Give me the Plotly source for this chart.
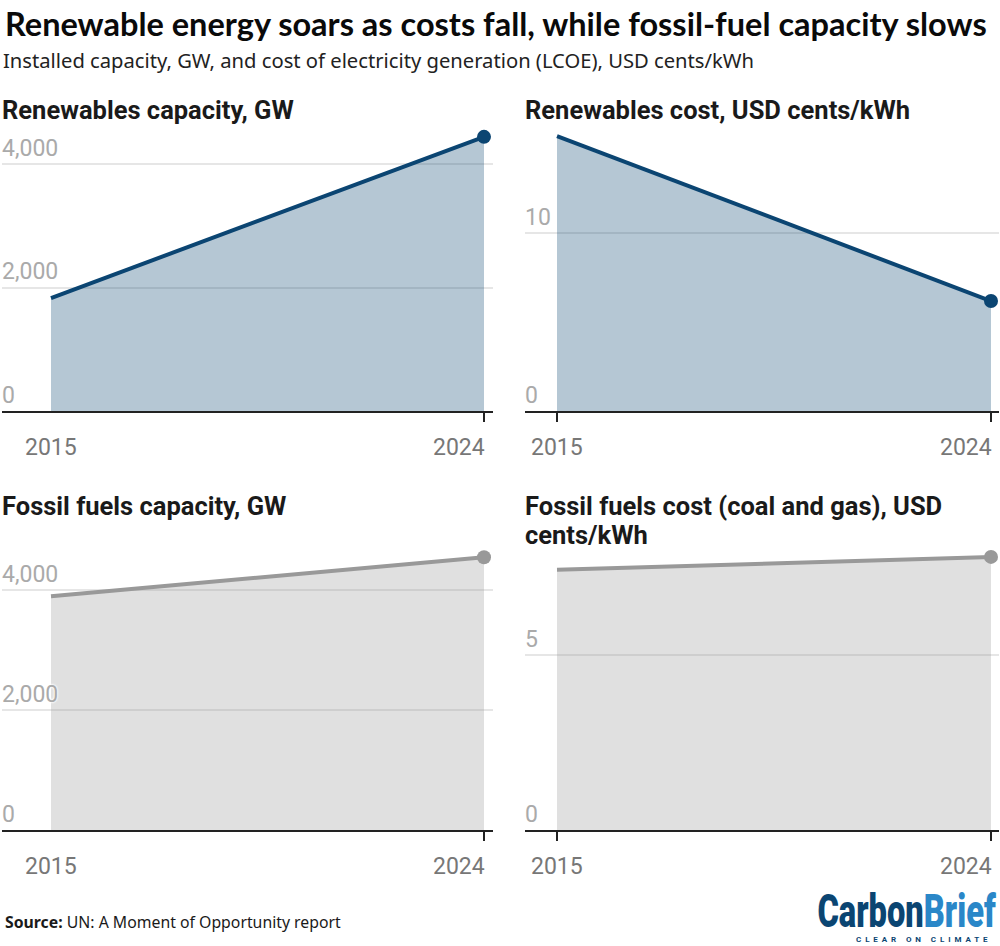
import plotly.graph_objects as go

W = 1000
H = 946

years = [2015, 2024]
renewables_capacity = [1830, 4440]
renewables_cost = [15.45, 6.18]
fossil_capacity = [3900, 4550]
fossil_cost = [7.43, 7.8]

capacity_ticks = [0, 2000, 4000]
capacity_labels = ['0', '2,000', '4,000']
cost_ticks_top = [0, 10]
cost_ticks_bottom = [0, 5]

BLUE = '#0b4572'
BLUE_FILL = 'rgba(11,69,114,0.3)'
GREY = '#999999'
GREY_FILL = 'rgba(153,153,153,0.3)'

# squeeze the logo and space out its strapline, no condensed font is installed
LOGO_JS = """
document.body.style.margin = '0';
document.querySelectorAll('.annotation-text').forEach(function (t) {
    if (t.textContent === 'CarbonBrief') {
        t.style.transformBox = 'fill-box';
        t.style.transformOrigin = '100% 50%';
        t.style.transform = 'scaleX(0.695)';
    }
    if (t.textContent === 'CLEAR ON CLIMATE') {
        t.style.letterSpacing = '3.9px';
    }
});
"""


def px_x(x):
    return x / W


def px_y(y):
    return 1 - y / H


def note(text, x, y, size, color='#1a1a1a', family='Roboto', xanchor='left', yanchor='middle', weight=None):
    return dict(text=text, x=px_x(x), y=px_y(y), xref='paper', yref='paper',
                xanchor=xanchor, yanchor=yanchor, showarrow=False, align='left',
                font=dict(family=family, size=size, color=color, weight=weight))


# name lines, values, line colour, fill, axis top value, tick values, tick labels, x span, y span
panels = [
    (['Renewables capacity, GW'], renewables_capacity, BLUE, BLUE_FILL, 4632,
     capacity_ticks, capacity_labels, (2, 493), (125, 411)),
    (['Renewables cost, USD cents/kWh'], renewables_cost, BLUE, BLUE_FILL, 16.07,
     cost_ticks_top, [str(t) for t in cost_ticks_top], (525, 999), (125, 411)),
    (['Fossil fuels capacity, GW'], fossil_capacity, GREY, GREY_FILL, 4755,
     capacity_ticks, capacity_labels, (2, 493), (545, 830)),
    (['Fossil fuels cost (coal and gas), USD', 'cents/kWh'], fossil_cost, GREY, GREY_FILL, 8.14,
     cost_ticks_bottom, [str(t) for t in cost_ticks_bottom], (525, 999), (545, 830)),
]
first_x = [51, 557, 51, 557]
last_x = [484, 991, 484, 991]
title_y = [110, 110, 506, 506]

fig = go.Figure()
annotations = [
    note('<b>Renewable energy soars as costs fall, while fossil-fuel capacity slows</b>',
         3, 24, 32.5, '#0a0a0a', 'Lato'),
    note('Installed capacity, GW, and cost of electricity generation (LCOE), USD cents/kWh',
         1, 60, 20.2, '#222222', 'Noto Sans'),
    note('<b>Source:</b> UN: A Moment of Opportunity report', 3, 922, 15.8, '#1a1a1a', 'Noto Sans'),
    note('<span style="color:#0b4572">Carbon</span><span style="color:#2a87c8">Brief</span>',
         999, 910, 47, '#0b4572', 'Roboto', xanchor='right', weight=900),
    note('<b>CLEAR ON CLIMATE</b>', 854, 939, 8, '#0b4572', 'Roboto'),
]

for i, (name, values, line, fill, top, ticks, labels, xspan, yspan) in enumerate(panels):
    n = i + 1
    suffix = '' if n == 1 else str(n)
    per_year = (last_x[i] - first_x[i]) / (years[1] - years[0])
    x_range = [years[0] - (first_x[i] - xspan[0]) / per_year,
               years[1] + (xspan[1] - last_x[i]) / per_year]

    fig.add_trace(go.Scatter(x=years, y=values, mode='lines', fill='tozeroy',
                             fillcolor=fill, line=dict(color=line, width=4),
                             xaxis='x' + suffix, yaxis='y' + suffix, showlegend=False))
    fig.add_trace(go.Scatter(x=years[-1:], y=values[-1:], mode='markers',
                             marker=dict(color=line, size=14),
                             xaxis='x' + suffix, yaxis='y' + suffix, showlegend=False))

    fig.update_layout({
        'xaxis' + suffix: dict(
            domain=[px_x(xspan[0]), px_x(xspan[1])], range=x_range,
            anchor='y' + suffix, tickmode='array', tickvals=years,
            showticklabels=False, ticks='outside', ticklen=9, tickwidth=2,
            tickcolor='#222222', showline=True, linecolor='#222222', linewidth=2,
            showgrid=False, zeroline=False),
        'yaxis' + suffix: dict(
            domain=[px_y(yspan[1]), px_y(yspan[0])], range=[0, top],
            anchor='x' + suffix, tickmode='array', tickvals=ticks, ticktext=labels,
            ticklabelposition='inside top', ticklabelstandoff=-3, ticks='',
            showline=False, zeroline=False,
            showgrid=True, gridcolor='#e6e6e6', gridwidth=1.5,
            tickfont=dict(family='Roboto', size=23, color='#aaaaaa',
                          shadow='0 0 2px white, 0 0 2px white, 0 0 3px white')),
    })

    for j, text in enumerate(name):
        annotations.append(note('<b>' + text + '</b>', xspan[0] - 2, title_y[i] + 29 * j, 25.5))
    # last year sits left of its tick, so the year labels are placed by hand
    for year, anchor, shift in zip(years, ['center', 'right'], [0, 3]):
        annotations.append(dict(text=str(year), x=year, y=px_y(yspan[1] + 36.5),
                                xref='x' + suffix, yref='paper', xanchor=anchor, yanchor='middle',
                                xshift=shift, showarrow=False,
                                font=dict(family='Roboto', size=23, color='#777777')))

fig.update_layout(width=W, height=H, margin=dict(l=0, r=0, t=0, b=0),
                  paper_bgcolor='white', plot_bgcolor='white',
                  annotations=annotations)

fig.write_html("out.html", post_script=LOGO_JS, config=dict(displayModeBar=False))
